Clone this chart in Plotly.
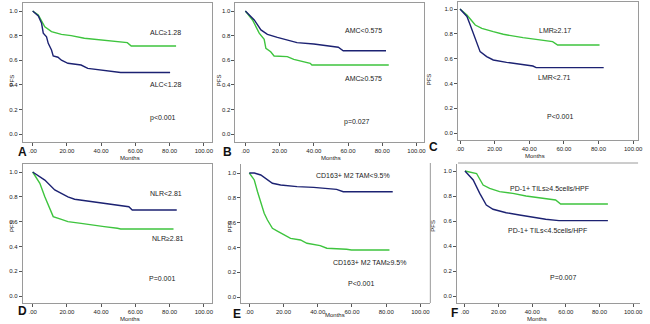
import plotly.graph_objects as go

W, H = 650, 324

# ---------------- data (months, PFS) ----------------
A_hi_t = [0, 3.3, 7.1, 11, 16.8, 22.5, 30.2, 39.9, 49.5, 55.3, 57.6, 83.8]
A_hi_s = [1.0, 0.967, 0.872, 0.832, 0.81, 0.80, 0.778, 0.764, 0.748, 0.743, 0.715, 0.715]
A_lo_t = [0, 3.3, 5.2, 6.2, 8.1, 9.1, 11, 12, 14.8, 16.8, 20.6, 28.3, 32.2, 41.8, 49.5, 51.4, 80.3]
A_lo_s = [1.0, 0.96, 0.90, 0.82, 0.79, 0.737, 0.683, 0.634, 0.624, 0.60, 0.575, 0.561, 0.534, 0.52, 0.507, 0.50, 0.50]

B_lo_t = [0, 5.2, 9.1, 12.9, 18.7, 24.5, 30.2, 40, 49.5, 54.3, 57.2, 82.2]
B_lo_s = [1.0, 0.927, 0.846, 0.81, 0.786, 0.764, 0.743, 0.732, 0.715, 0.705, 0.677, 0.677]
B_hi_t = [0, 4.2, 8.1, 11, 12, 14.8, 16.8, 24.5, 28.3, 32.2, 37.9, 38.9, 83.8]
B_hi_s = [1.0, 0.927, 0.82, 0.77, 0.697, 0.669, 0.634, 0.629, 0.607, 0.593, 0.575, 0.561, 0.561]

C_hi_t = [0, 4, 8.8, 12.6, 19.2, 25, 36.4, 44, 53.5, 56.4, 80.6]
C_hi_s = [1.0, 0.952, 0.871, 0.844, 0.817, 0.796, 0.769, 0.755, 0.737, 0.71, 0.71]
C_lo_t = [0, 4, 5.9, 7.8, 9.7, 11.6, 15.4, 19.2, 26.9, 34.5, 42.1, 44, 83]
C_lo_s = [1.0, 0.94, 0.871, 0.804, 0.723, 0.656, 0.616, 0.589, 0.57, 0.556, 0.54, 0.527, 0.527]

D_lo_t = [0, 7.1, 12.9, 20.6, 24.5, 32.2, 43.7, 53.4, 56.2, 58.2, 84.2]
D_lo_s = [1.0, 0.935, 0.855, 0.80, 0.78, 0.766, 0.742, 0.728, 0.72, 0.694, 0.694]
D_hi_t = [0, 4.2, 7.1, 10, 12, 16.8, 20.6, 28.3, 34.1, 41.8, 49.5, 51.4, 82.3]
D_hi_s = [1.0, 0.909, 0.80, 0.707, 0.64, 0.618, 0.60, 0.586, 0.573, 0.559, 0.546, 0.54, 0.54]

E_lo_t = [0, 2.9, 6.7, 10.6, 13.5, 18.3, 27.9, 37.6, 43.4, 51, 54.9, 83.8]
E_lo_s = [1.0, 1.0, 0.984, 0.944, 0.917, 0.903, 0.89, 0.884, 0.876, 0.868, 0.849, 0.849]
E_hi_t = [0, 2.9, 4.8, 6.7, 8.7, 10.6, 13.5, 16.4, 20.2, 24.1, 29.9, 33.7, 41.4, 45.3, 56.8, 59.7, 81.9]
E_hi_s = [1.0, 0.944, 0.849, 0.755, 0.675, 0.621, 0.554, 0.532, 0.50, 0.473, 0.46, 0.433, 0.414, 0.393, 0.385, 0.379, 0.379]

F_hi_t = [0, 2.9, 6.9, 10.8, 14.7, 20.6, 28.5, 36.3, 46.1, 53.9, 56.9, 85]
F_hi_s = [1.0, 0.994, 0.98, 0.888, 0.861, 0.835, 0.821, 0.80, 0.781, 0.768, 0.736, 0.736]
F_lo_t = [0, 4.9, 8.8, 12.7, 16.7, 24.5, 32.4, 40.2, 48, 55.9, 85]
F_lo_s = [1.0, 0.928, 0.821, 0.728, 0.694, 0.666, 0.648, 0.629, 0.614, 0.603, 0.603]

x_ticks = [0, 20, 40, 60, 80, 100]
x_tick_text = [".00", "20.00", "40.00", "60.00", "80.00", "100.00"]
y_ticks = [0, 0.2, 0.4, 0.6, 0.8, 1.0]
y_tick_text = ["0.0", "0.2", "0.4", "0.6", "0.8", "1.0"]

GREEN = "#3ec43e"
NAVY = "#1c2272"
FRAME = "#9a9a9a"

# ---------------- layout of panels (pixels) ----------------
panels = [
    dict(letter="A", frame=(21, 3, 212, 142), x0=31, x100=204, y1=11, y0=134, box=True,
         letter_xy=(14, 152), pfs_x=5, months_y=158,
         curves=[(A_hi_t, A_hi_s, GREEN), (A_lo_t, A_lo_s, NAVY)],
         texts=[("ALC≥1.28", 148, 32), ("ALC<1.28", 148, 84), ("p<0.001", 148, 118)]),
    dict(letter="B", frame=(236, 3, 427, 142), x0=246, x100=419, y1=11, y0=134, box=True,
         letter_xy=(228, 152), pfs_x=219, months_y=158,
         curves=[(B_hi_t, B_hi_s, GREEN), (B_lo_t, B_lo_s, NAVY)],
         texts=[("AMC<0.575", 365, 31), ("AMC≥0.575", 365, 79), ("p=0.027", 359, 122)]),
    dict(letter="C", frame=(461, 2, 643, 140), x0=463, x100=638, y1=9, y0=133, box=True,
         letter_xy=(443, 147), pfs_x=437, months_y=156,
         curves=[(C_hi_t, C_hi_s, GREEN), (C_lo_t, C_lo_s, NAVY)],
         texts=[("LMR≥2.17", 577, 31), ("LMR<2.71", 577, 78), ("P<0.001", 579, 116)]),
    dict(letter="D", frame=(21, 164, 212, 303), x0=31, x100=204, y1=172, y0=296, box=True,
         letter_xy=(14, 311), pfs_x=5, months_y=319,
         curves=[(D_hi_t, D_hi_s, GREEN), (D_lo_t, D_lo_s, NAVY)],
         texts=[("NLR<2.81", 148, 193), ("NLR≥2.81", 150, 239), ("P=0.001", 147, 278)]),
    dict(letter="E", frame=(242, 164, 433, 303), x0=250, x100=423, y1=173, y0=297, box=False,
         letter_xy=(238, 314), pfs_x=230, months_y=315,
         curves=[(E_hi_t, E_hi_s, GREEN), (E_lo_t, E_lo_s, NAVY)],
         texts=[("CD163+ M2 TAM<9.5%", 355, 175), ("CD163+ M2 TAM≥9.5%", 372, 262), ("P<0.001", 363, 283)]),
    dict(letter="F", frame=(460, 164, 645, 303), x0=468, x100=638, y1=171, y0=296, box=False,
         letter_xy=(463, 313), pfs_x=440, months_y=319,
         curves=[(F_hi_t, F_hi_s, GREEN), (F_lo_t, F_lo_s, NAVY)],
         texts=[("PD-1+ TILs≥4.5cells/HPF", 595, 188), ("PD-1+ TILs<4.5cells/HPF", 593, 231), ("P=0.007", 582, 277)]),
]

FONT = "Liberation Sans, Arial, sans-serif"
fig = go.Figure()
annotations = []
layout_axes = {}

for i, p in enumerate(panels):
    n = i + 1
    xa = "x" if n == 1 else f"x{n}"
    ya = "y" if n == 1 else f"y{n}"
    L, T, R, B = p["frame"]
    sx = (p["x100"] - p["x0"]) / 100.0
    sy = (p["y0"] - p["y1"]) / 1.0
    xr = [(L - p["x0"]) / sx, (R - p["x0"]) / sx]
    yr = [(p["y0"] - B) / sy, (p["y0"] - T) / sy]
    for t, s, c in p["curves"]:
        fig.add_trace(go.Scatter(x=t, y=s, mode="lines", line=dict(color=c, width=1.4),
                                 xaxis=xa, yaxis=ya, showlegend=False, hoverinfo="skip"))
    axis_common = dict(showgrid=False, zeroline=False, showline=True, linecolor=FRAME, linewidth=1,
                       ticks="outside", ticklen=3, tickcolor="#555", tickwidth=1,
                       tickfont=dict(family=FONT, size=6, color="#222"), mirror=p["box"])
    layout_axes["xaxis" if n == 1 else f"xaxis{n}"] = dict(
        axis_common, domain=[L / W, R / W], range=xr, anchor=ya,
        tickvals=x_ticks, ticktext=x_tick_text)
    layout_axes["yaxis" if n == 1 else f"yaxis{n}"] = dict(
        axis_common, domain=[1 - B / H, 1 - T / H], range=yr, anchor=xa,
        tickvals=y_ticks, ticktext=y_tick_text)
    annotations.append(dict(text="Months", x=(p["x0"] + p["x100"]) / 2 / W, y=1 - p["months_y"] / H,
                            xref="paper", yref="paper", showarrow=False, yanchor="middle",
                            font=dict(family=FONT, size=6, color="#222")))
    annotations.append(dict(text="PFS", x=p["pfs_x"] / W, y=1 - ((p["y0"] + p["y1"]) / 2) / H,
                            xref="paper", yref="paper", showarrow=False, textangle=-90,
                            font=dict(family=FONT, size=6, color="#222")))
    annotations.append(dict(text=f"<b>{p['letter']}</b>", x=p["letter_xy"][0] / W, y=1 - p["letter_xy"][1] / H,
                            xref="paper", yref="paper", showarrow=False, yanchor="middle",
                            font=dict(family=FONT, size=12, color="#111")))
    for txt, tx, ty in p["texts"]:
        annotations.append(dict(text=txt, x=tx / W, y=1 - ty / H, xref="paper", yref="paper",
                                showarrow=False, yanchor="middle",
                                font=dict(family=FONT, size=7, color="#222")))

# separator frame lines between panels
shapes = [
    dict(type="line", xref="paper", yref="paper", x0=433 / W, x1=433 / W, y0=1 - 303 / H, y1=1 - 163 / H,
         line=dict(color=FRAME, width=1)),
    dict(type="line", xref="paper", yref="paper", x0=461 / W, x1=643 / W, y0=1 - 163 / H, y1=1 - 163 / H,
         line=dict(color=FRAME, width=1)),
]

fig.update_layout(width=W, height=H, margin=dict(l=0, r=0, t=0, b=0),
                  paper_bgcolor="white", plot_bgcolor="white",
                  annotations=annotations, shapes=shapes, **layout_axes)
fig.write_html("out.html", config={"displayModeBar": False},
               post_script="document.body.style.margin='0';")
